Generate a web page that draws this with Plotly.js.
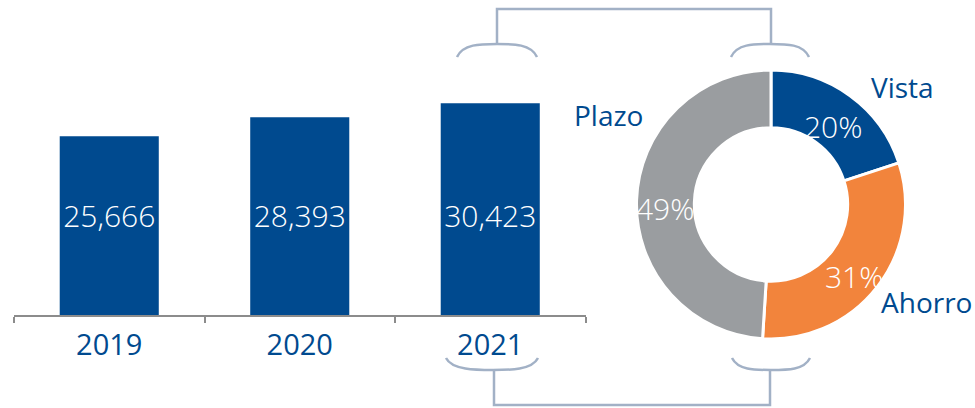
<!DOCTYPE html>
<html>
<head>
<meta charset="utf-8">
<script src="https://cdn.plot.ly/plotly-3.0.1.min.js"></script>
<style>html,body{margin:0;padding:0;background:#fff;}#chart{width:975px;height:408px;}</style>
</head>
<body>
<div id="chart"></div>
<script>
// ---- data ----
const years = ['2019', '2020', '2021'];
const balances = [25666, 28393, 30423];
const balanceLabels = ['25,666', '28,393', '30,423'];
const segments = ['Vista', 'Ahorro', 'Plazo'];
const shares = [20, 31, 49];

// ---- styles ----
const W = 975, H = 408;
const BLUE = '#004a8f', ORANGE = '#f2843c', GRAY = '#9a9da0', BRACE = '#a2b1c6';
const FONT = 'Open Sans, DejaVu Sans, sans-serif';
const px = x => x / W;
const py = y => 1 - y / H;

// donut geometry (pixels)
const PIE = {x0: 636, x1: 906, y0: 70, y1: 339, hole: 0.57};
const pieCx = (PIE.x0 + PIE.x1) / 2, pieCy = (PIE.y0 + PIE.y1) / 2;
const pieR = Math.min(PIE.x1 - PIE.x0, PIE.y1 - PIE.y0) / 2;
const midR = pieR * (1 + PIE.hole) / 2;

const bars = {
  type: 'bar', x: years, y: balances,
  marker: {color: BLUE}, width: 0.52,
  hoverinfo: 'skip', xaxis: 'x', yaxis: 'y'
};
const barText = {
  type: 'scatter', mode: 'text', x: years,
  y: years.map(() => Math.min(...balances) * 0.535),
  text: balanceLabels,
  textfont: {color: '#ffffff', size: 30, family: FONT, weight: 300},
  hoverinfo: 'skip', xaxis: 'x', yaxis: 'y'
};
const donut = {
  type: 'pie', labels: segments, values: shares,
  sort: false, direction: 'clockwise', rotation: 0, hole: PIE.hole,
  marker: {colors: [BLUE, ORANGE, GRAY], line: {color: '#ffffff', width: 3}},
  textinfo: 'none',
  domain: {x: [px(PIE.x0), px(PIE.x1)], y: [py(PIE.y1), py(PIE.y0)]},
  hoverinfo: 'skip'
};

function brace(x0, x1, xm, yEnd, yMid) {
  return `M${px(x0)},${py(yEnd)} C${px(x0 + 6)},${py(yMid)} ${px(xm - 17)},${py(yMid)} ${px(xm)},${py(yMid)} ` +
         `C${px(xm + 17)},${py(yMid)} ${px(x1 - 6)},${py(yMid)} ${px(x1)},${py(yEnd)}`;
}
const lineStyle = {color: BRACE, width: 2.5};
const shapes = [
  {type: 'path', xref: 'paper', yref: 'paper', path: brace(457, 537, 497, 57, 44), line: lineStyle},
  {type: 'path', xref: 'paper', yref: 'paper', path: brace(731, 809, 770, 57, 44), line: lineStyle},
  {type: 'path', xref: 'paper', yref: 'paper',
   path: `M${px(497)},${py(44)} L${px(497)},${py(9)} L${px(771)},${py(9)} L${px(771)},${py(44)}`, line: lineStyle},
  {type: 'path', xref: 'paper', yref: 'paper', path: brace(446, 538, 493, 358, 370), line: lineStyle},
  {type: 'path', xref: 'paper', yref: 'paper', path: brace(732, 810, 771, 358, 370), line: lineStyle},
  {type: 'path', xref: 'paper', yref: 'paper',
   path: `M${px(494)},${py(370)} L${px(494)},${py(405)} L${px(770)},${py(405)} L${px(770)},${py(370)}`, line: lineStyle}
];

// segment name labels
const labelPos = {Vista: [902, 87], Ahorro: [926, 302], Plazo: [608, 115]};
const annotations = segments.map(s => ({
  xref: 'paper', yref: 'paper', x: px(labelPos[s][0]), y: py(labelPos[s][1]),
  xanchor: 'center', yanchor: 'middle', showarrow: false, text: s,
  font: {color: BLUE, size: 28, family: FONT}
}));
// percentage labels at each slice's mid-angle in the ring
const total = shares.reduce((a, b) => a + b, 0);
let cum = 0;
shares.forEach(v => {
  const theta = (cum + v / 2) / total * 2 * Math.PI;
  cum += v;
  annotations.push({
    xref: 'paper', yref: 'paper',
    x: px(pieCx + midR * Math.sin(theta)), y: py(pieCy - midR * Math.cos(theta)),
    xanchor: 'center', yanchor: 'middle', yshift: -7, showarrow: false,
    text: v + '%', font: {color: '#ffffff', size: 30, family: FONT, weight: 300}
  });
});

const layout = {
  width: W, height: H,
  margin: {l: 0, r: 0, t: 0, b: 0},
  paper_bgcolor: '#ffffff', plot_bgcolor: 'rgba(0,0,0,0)',
  showlegend: false,
  font: {family: FONT},
  xaxis: {
    domain: [px(14), px(585.5)], type: 'category', range: [-0.5, 2.5],
    showline: true, linecolor: '#8c8c8c', linewidth: 2,
    ticks: 'outside', tickson: 'boundaries', ticklen: 6, tickwidth: 2, tickcolor: '#8c8c8c',
    tickfont: {color: BLUE, size: 29, family: FONT}, ticklabelstandoff: 3,
    showgrid: false, zeroline: false, fixedrange: true
  },
  yaxis: {
    domain: [py(315), py(10)], range: [0, 43800],
    visible: false, showgrid: false, zeroline: false, fixedrange: true
  },
  shapes: shapes,
  annotations: annotations
};

Plotly.newPlot('chart', [bars, barText, donut], layout, {displayModeBar: false, staticPlot: true});
</script>
</body>
</html>
